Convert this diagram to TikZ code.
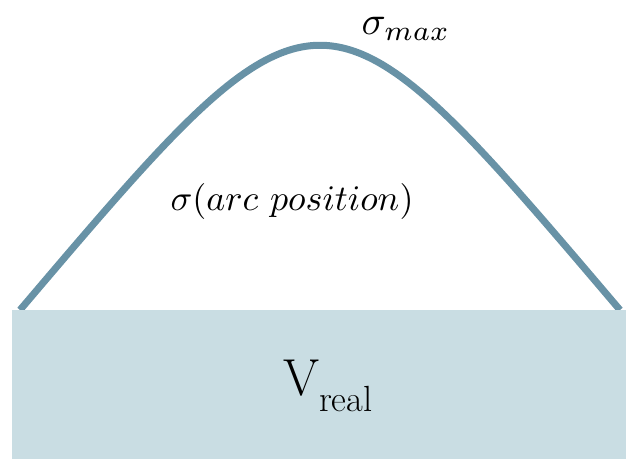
\documentclass[tikz,border=0pt]{standalone}
\usepackage{tikz}
\usetikzlibrary{positioning}
\definecolor{curveblue}{RGB}{104,146,166}
\definecolor{boxblue}{RGB}{201,221,227}
\tikzstyle{curve} = [line width=7pt, draw=curveblue, line cap=butt]
\tikzstyle{label} = [inner sep=0pt, font=\normalsize, scale=3.6]

\begin{document}
\begin{tikzpicture}[x=1pt, y=-1pt]
  \useasboundingbox (0,0) rectangle (626,459);

  % Đường cong ứng suất
  \coordinate (cl) at (20,310);
  \coordinate (cr) at (620,310);
  \coordinate (ctl) at (320,-43);
  \begin{scope}
    \clip (0,0) rectangle (626,310);
    \draw[curve] (cl) .. controls (ctl) .. (cr);
  \end{scope}

  % Khối thể tích
  \node[rectangle, fill=boxblue, minimum width=614pt, minimum height=149pt, anchor=north west, inner sep=0pt] (vol) at (12,310) {};
  \node[inner sep=0pt, font=\fontsize{52}{60}\selectfont] (vreal) at (328,386) {V\textsubscript{real}};

  % Nhãn
  \node[label, scale=4/3.6] (smax) at (406,29) {$\sigma_{max}$};
  \node[label] (sarc) at (292,201) {$\sigma(arc\ position)$};
\end{tikzpicture}
\end{document}
